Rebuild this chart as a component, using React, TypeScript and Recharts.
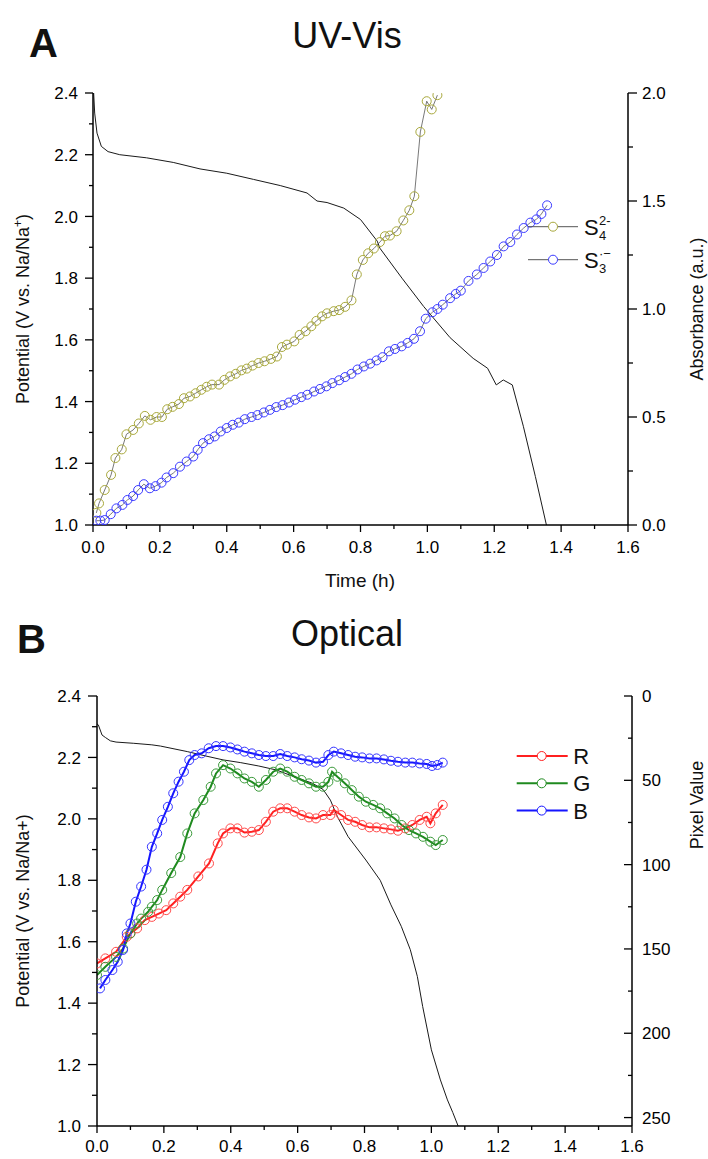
import React from 'react';
import { ComposedChart, Line, XAxis, YAxis, Legend } from 'recharts';

// ---------- Panel A data (UV-Vis) ----------
const potentialA: [number, number][] = [
  [0, 2.5], [0.002, 2.4], [0.005, 2.335], [0.012, 2.27], [0.025, 2.227], [0.045, 2.21], [0.08, 2.2],
  [0.16, 2.19], [0.24, 2.175], [0.32, 2.154], [0.4, 2.14], [0.48, 2.12], [0.56, 2.1], [0.64, 2.076],
  [0.67, 2.05], [0.7, 2.045], [0.75, 2.027], [0.8, 1.99], [0.85, 1.92], [0.858, 1.897], [0.924, 1.8],
  [0.989, 1.708], [1.068, 1.607], [1.137, 1.54], [1.18, 1.508], [1.206, 1.454], [1.227, 1.47],
  [1.254, 1.454], [1.287, 1.32], [1.323, 1.157], [1.356, 1.0],
];
const s4Abs: [number, number][] = [
  [0.01, 0.056], [0.018, 0.1], [0.035, 0.162], [0.054, 0.232], [0.067, 0.31], [0.086, 0.35], [0.1, 0.42],
  [0.12, 0.44], [0.137, 0.47], [0.155, 0.505], [0.172, 0.487], [0.19, 0.5], [0.206, 0.5], [0.222, 0.536],
  [0.238, 0.547], [0.257, 0.56], [0.272, 0.587], [0.29, 0.595], [0.307, 0.61], [0.324, 0.626], [0.34, 0.64],
  [0.356, 0.65], [0.377, 0.65], [0.393, 0.672], [0.41, 0.688], [0.427, 0.7], [0.444, 0.716], [0.46, 0.724],
  [0.477, 0.738], [0.495, 0.75], [0.513, 0.758], [0.532, 0.769], [0.55, 0.78], [0.565, 0.824], [0.58, 0.835],
  [0.602, 0.85], [0.618, 0.88], [0.636, 0.897], [0.653, 0.92], [0.668, 0.945], [0.685, 0.966], [0.7, 0.98],
  [0.72, 0.99], [0.736, 0.995], [0.754, 1.01], [0.773, 1.04], [0.789, 1.16], [0.807, 1.227], [0.823, 1.258],
  [0.84, 1.28], [0.858, 1.31], [0.873, 1.337], [0.888, 1.34], [0.908, 1.36], [0.928, 1.41], [0.946, 1.457],
  [0.961, 1.522], [0.979, 1.82], [0.998, 1.962], [1.013, 1.924], [1.03, 1.99],
];
const s3Abs: [number, number][] = [
  [0.01, 0.02], [0.022, 0.02], [0.035, 0.023], [0.053, 0.05], [0.07, 0.077], [0.088, 0.093], [0.103, 0.116],
  [0.12, 0.134], [0.135, 0.162], [0.152, 0.189], [0.17, 0.17], [0.187, 0.18], [0.205, 0.196], [0.22, 0.22],
  [0.24, 0.24], [0.26, 0.27], [0.28, 0.294], [0.3, 0.317], [0.313, 0.348], [0.329, 0.379], [0.347, 0.397],
  [0.364, 0.41], [0.382, 0.433], [0.4, 0.449], [0.418, 0.464], [0.436, 0.474], [0.454, 0.49], [0.474, 0.5],
  [0.492, 0.509], [0.511, 0.521], [0.529, 0.533], [0.548, 0.546], [0.567, 0.555], [0.586, 0.567],
  [0.604, 0.58], [0.623, 0.592], [0.641, 0.603], [0.661, 0.618], [0.679, 0.63], [0.698, 0.642], [0.716, 0.657],
  [0.736, 0.67], [0.754, 0.685], [0.773, 0.7], [0.791, 0.72], [0.81, 0.734], [0.829, 0.747], [0.848, 0.762],
  [0.866, 0.777], [0.885, 0.804], [0.903, 0.815], [0.923, 0.827], [0.941, 0.843], [0.96, 0.862], [0.978, 0.897],
  [0.995, 0.955], [1.015, 0.985], [1.03, 1.0], [1.046, 1.02], [1.068, 1.05], [1.085, 1.07], [1.1, 1.085],
  [1.123, 1.13], [1.148, 1.16], [1.168, 1.19], [1.188, 1.22], [1.208, 1.25], [1.228, 1.29], [1.248, 1.31],
  [1.268, 1.345], [1.288, 1.375], [1.308, 1.4], [1.326, 1.415], [1.341, 1.44], [1.358, 1.48],
];

// ---------- Panel B data (Optical) ----------
const potentialB: [number, number][] = [
  [0, 2.309], [0.004, 2.306], [0.015, 2.273], [0.025, 2.265], [0.04, 2.254], [0.057, 2.25], [0.11, 2.246],
  [0.164, 2.241], [0.19, 2.237], [0.27, 2.219], [0.324, 2.205], [0.377, 2.192], [0.43, 2.183], [0.484, 2.172],
  [0.537, 2.159], [0.59, 2.137], [0.644, 2.116], [0.676, 2.096], [0.698, 2.061], [0.719, 2.007], [0.751, 1.942],
  [0.804, 1.866], [0.847, 1.8], [0.879, 1.72], [0.91, 1.65], [0.937, 1.574], [0.958, 1.487], [0.974, 1.389],
  [1.0, 1.248], [1.027, 1.15], [1.048, 1.085], [1.064, 1.044], [1.08, 1.0],
];
const redPixel: [number, number][] = [
  [0.0, 158.6], [0.025, 155.6], [0.057, 151.7], [0.089, 142.8], [0.1, 140.8], [0.12, 137.8], [0.143, 132.9],
  [0.164, 131], [0.185, 129], [0.207, 127], [0.228, 123], [0.249, 119], [0.27, 115], [0.303, 107], [0.335, 99.3],
  [0.361, 87.4], [0.377, 81.5], [0.399, 78.5], [0.42, 78.5], [0.441, 81], [0.463, 80.5], [0.484, 79.5],
  [0.505, 74.6], [0.527, 68.6], [0.548, 66.6], [0.569, 66.6], [0.591, 68.6], [0.612, 70.6], [0.634, 72],
  [0.655, 72.6], [0.676, 70.6], [0.698, 70.6], [0.708, 67.6], [0.73, 70.6], [0.751, 73.5], [0.772, 74.6],
  [0.793, 76.5], [0.815, 77.9], [0.836, 77.9], [0.858, 78.5], [0.879, 79.1], [0.9, 79.9], [0.922, 78.5],
  [0.943, 76.5], [0.965, 73.5], [0.986, 71.6], [0.997, 75.5], [1.013, 69.6], [1.034, 64.6],
];
const greenPixel: [number, number][] = [
  [0.0, 165.5], [0.025, 160.6], [0.057, 154.7], [0.078, 149.8], [0.1, 140.8], [0.12, 134.9], [0.132, 132],
  [0.153, 128], [0.164, 125], [0.18, 121], [0.195, 115], [0.222, 105], [0.249, 95.5], [0.27, 81.5],
  [0.292, 69.6], [0.318, 61.7], [0.34, 53.8], [0.356, 45.9], [0.377, 41], [0.399, 43], [0.42, 45.9],
  [0.441, 48.9], [0.463, 50.9], [0.484, 53.8], [0.505, 49.8], [0.527, 44.9], [0.548, 43], [0.569, 44.9],
  [0.591, 47.9], [0.612, 49.8], [0.634, 51.8], [0.655, 53.8], [0.676, 53.8], [0.692, 50.9], [0.703, 44.9],
  [0.719, 47.9], [0.741, 51.8], [0.762, 55.8], [0.783, 59.7], [0.804, 62.7], [0.826, 64.6], [0.847, 66.6],
  [0.868, 69.6], [0.89, 72.6], [0.911, 76.5], [0.933, 79.5], [0.954, 81.5], [0.975, 83.5], [0.997, 86.4],
  [1.013, 88.4], [1.034, 85.4],
];
const bluePixel: [number, number][] = [
  [0.009, 173.4], [0.025, 168.4], [0.046, 162.5], [0.062, 157.6], [0.078, 150.6], [0.089, 140.8], [0.1, 134.9],
  [0.116, 122], [0.132, 113], [0.148, 103], [0.164, 89.4], [0.18, 81.5], [0.195, 73.5], [0.212, 65.7],
  [0.228, 57.7], [0.244, 50.8], [0.26, 44.9], [0.276, 38], [0.292, 35], [0.313, 34], [0.334, 31], [0.356, 29.7],
  [0.377, 29.7], [0.399, 30.5], [0.42, 31.7], [0.441, 33], [0.463, 34], [0.484, 35], [0.505, 35.6],
  [0.527, 35.6], [0.548, 34.4], [0.569, 35.6], [0.591, 36.4], [0.612, 37.5], [0.634, 38.3], [0.655, 39.5],
  [0.676, 39], [0.692, 35], [0.708, 33], [0.73, 34], [0.751, 35], [0.772, 36], [0.793, 36.4], [0.815, 37],
  [0.836, 37], [0.858, 37.6], [0.879, 38.4], [0.9, 39], [0.922, 39.5], [0.943, 39.5], [0.965, 40],
  [0.986, 40.3], [1.002, 41.5], [1.018, 40.9], [1.034, 39.5],
];

// ---------- Tick values ----------
const timeTicks = [0, 0.1, 0.2, 0.3, 0.4, 0.5, 0.6, 0.7, 0.8, 0.9, 1.0, 1.1, 1.2, 1.3, 1.4, 1.5, 1.6];
const timeTopTicksA = [0, 0.16, 0.32, 0.48, 0.64, 0.8, 0.96, 1.12, 1.28, 1.44, 1.6];
const potentialTicks = [1.0, 1.1, 1.2, 1.3, 1.4, 1.5, 1.6, 1.7, 1.8, 1.9, 2.0, 2.1, 2.2, 2.3, 2.4];
const absTicks = [0, 0.25, 0.5, 0.75, 1.0, 1.25, 1.5, 1.75, 2.0];
const pixelTicks = [0, 25, 50, 75, 100, 125, 150, 175, 200, 225, 250];

const FONT = "'Liberation Sans', Arial, Helvetica, sans-serif";
const OLIVE = '#a8a83c';
const BLUE_A = '#3a3aff';

const toXY = (arr: [number, number][], key: string) => arr.map(([t, v]) => ({ t, [key]: v }));

const isMult = (v: number, step: number) => Math.abs(v / step - Math.round(v / step)) < 1e-6;

type Side = 'left' | 'right' | 'bottom' | 'top';
function makeTick(side: Side, majorLen: number, minorLen: number, majorStep: number, fmt: ((v: number) => string) | null, gap: number) {
  return (props: any) => {
    const { x, y, payload } = props;
    const v = payload.value;
    const maj = isMult(v, majorStep);
    const len = maj ? majorLen : minorLen;
    let line: any;
    let label: any = null;
    const out = Math.max(len, 0);
    const txt = fmt && maj ? fmt(v) : null;
    if (side === 'left') {
      line = <line x1={x} y1={y} x2={x - len} y2={y} stroke="#000" strokeWidth={1.3} />;
      if (txt) label = <text x={x - out - gap} y={y} dy="0.36em" textAnchor="end" fontSize={17} fontFamily={FONT} fill="#000">{txt}</text>;
    } else if (side === 'right') {
      line = <line x1={x} y1={y} x2={x + len} y2={y} stroke="#000" strokeWidth={1.3} />;
      if (txt) label = <text x={x + out + gap} y={y} dy="0.36em" textAnchor="start" fontSize={17} fontFamily={FONT} fill="#000">{txt}</text>;
    } else if (side === 'bottom') {
      line = <line x1={x} y1={y} x2={x} y2={y + len} stroke="#000" strokeWidth={1.3} />;
      if (txt) label = <text x={x} y={y + out + gap} dy="0.72em" textAnchor="middle" fontSize={17} fontFamily={FONT} fill="#000">{txt}</text>;
    } else {
      line = <line x1={x} y1={y} x2={x} y2={y - len} stroke="#000" strokeWidth={1.3} />;
    }
    return <g>{line}{label}</g>;
  };
}

const f1 = (v: number) => v.toFixed(1);
const f0 = (v: number) => String(Math.round(v));

const ringDot = (color: string, r: number, w: number) => (p: any) => {
  if (p.cx == null || p.cy == null) return <g key={p.index} />;
  return <circle key={p.index} cx={p.cx} cy={p.cy} r={r} fill="none" stroke={color} strokeWidth={w} />;
};

const legendAOrder = ['S4', 'S3'];
const legendA: Record<string, { color: string; main: string; sub: string; sup: string }> = {
  S4: { color: OLIVE, main: 'S', sub: '4', sup: '2-' },
  S3: { color: BLUE_A, main: 'S', sub: '3', sup: '·−' },
};

const TopLegend = (props: any) => {
  const items = (props.payload || [])
    .filter((it: any) => legendA[it.value])
    .sort((a: any, b: any) => legendAOrder.indexOf(a.value) - legendAOrder.indexOf(b.value));
  return (
    <svg width={110} height={70} style={{ overflow: 'visible' }}>
      {items.map((it: any, i: number) => {
        const cfg = legendA[it.value];
        const cy = 21.7 + 33 * i;
        return (
          <g key={it.value}>
            <line x1={8} y1={cy} x2={58} y2={cy} stroke="#555" strokeWidth={1} />
            <circle cx={33} cy={cy} r={4.5} fill="#fff" stroke={cfg.color} strokeWidth={1} />
            <text x={64} y={cy + 8} fontSize={22} fontFamily={FONT} fill="#111">{cfg.main}</text>
            <text x={79} y={cy + 13} fontSize={13} fontFamily={FONT} fill="#111">{cfg.sub}</text>
            <text x={79} y={cy - 2} fontSize={13} fontFamily={FONT} fill="#111">{cfg.sup}</text>
          </g>
        );
      })}
    </svg>
  );
};

const legendBOrder = ['R', 'G', 'B'];
const legendB: Record<string, string> = { R: '#ff2020', G: '#1f8a1f', B: '#1515ff' };
const BottomLegend = (props: any) => {
  const items = (props.payload || [])
    .filter((it: any) => legendB[it.value])
    .sort((a: any, b: any) => legendBOrder.indexOf(a.value) - legendBOrder.indexOf(b.value));
  return (
    <svg width={100} height={90} style={{ overflow: 'visible' }}>
      {items.map((it: any, i: number) => {
        const cy = 16 + 27.3 * i;
        const c = legendB[it.value];
        return (
          <g key={it.value}>
            <line x1={6.7} y1={cy} x2={57.7} y2={cy} stroke={c} strokeWidth={2} />
            <circle cx={31.7} cy={cy} r={4.5} fill="#fff" stroke={c} strokeWidth={1} />
            <text x={63.3} y={cy + 8} fontSize={22} fontFamily={FONT} fill="#111">{it.value}</text>
          </g>
        );
      })}
    </svg>
  );
};

function ChartA() {
  return (
    <ComposedChart width={708} height={600} margin={{ top: 93, right: 0, bottom: 15, left: 0 }}>
      <XAxis xAxisId="b" dataKey="t" type="number" domain={[0, 1.6]} ticks={timeTicks} interval={0}
        allowDataOverflow height={60} tickSize={0} tickMargin={0} tickLine={false}
        axisLine={{ stroke: '#000', strokeWidth: 1.5 }} tick={makeTick('bottom', 7, 4, 0.2, f1, 9)} />
      <XAxis xAxisId="top" orientation="top" dataKey="t" type="number" domain={[0, 1.6]} ticks={timeTopTicksA}
        interval={0} height={0} tickSize={0} tickMargin={0} tickLine={false}
        axisLine={{ stroke: '#000', strokeWidth: 1.5 }} tick={makeTick('top', -4, -4, 0.16, null, 0)} />
      <YAxis yAxisId="l" type="number" domain={[1.0, 2.4]} ticks={potentialTicks} interval={0} allowDataOverflow
        width={93} tickSize={0} tickMargin={0} tickLine={false}
        axisLine={{ stroke: '#000', strokeWidth: 1.5 }} tick={makeTick('left', 8, 4, 0.2, f1, 7)} />
      <YAxis yAxisId="r" orientation="right" type="number" domain={[0, 2.0]} ticks={absTicks} interval={0}
        allowDataOverflow width={80} tickSize={0} tickMargin={0} tickLine={false}
        axisLine={{ stroke: '#000', strokeWidth: 1.5 }} tick={makeTick('right', 9, 5, 0.5, f1, 5)} />
      <Line data={toXY(potentialA, 'v')} dataKey="v" xAxisId="b" yAxisId="l" type="linear" stroke="#1a1a1a"
        strokeWidth={1} dot={false} isAnimationActive={false} legendType="none" />
      <Line data={toXY(s4Abs, 'a')} dataKey="a" name="S4" xAxisId="b" yAxisId="r" type="linear" stroke="#555"
        strokeWidth={0.8} dot={ringDot(OLIVE, 4.5, 1)} isAnimationActive={false} />
      <Line data={toXY(s3Abs, 'a')} dataKey="a" name="S3" xAxisId="b" yAxisId="r" type="linear" stroke="#555"
        strokeWidth={0.8} dot={ringDot(BLUE_A, 4.5, 1)} isAnimationActive={false} />
      <Legend layout="vertical" align="center" verticalAlign="middle" content={TopLegend}
        wrapperStyle={{ position: 'absolute', left: 520, top: 205, width: 110, height: 70 }} />
    </ComposedChart>
  );
}

function ChartB() {
  return (
    <ComposedChart width={708} height={559} margin={{ top: 96, right: 0, bottom: 3, left: 0 }}>
      <XAxis xAxisId="b" dataKey="t" type="number" domain={[0, 1.6]} ticks={timeTicks} interval={0}
        allowDataOverflow height={30} tickSize={0} tickMargin={0} tickLine={false}
        axisLine={{ stroke: '#000', strokeWidth: 1.5 }} tick={makeTick('bottom', 7, 4, 0.2, f1, 7)} />
      <XAxis xAxisId="top" orientation="top" dataKey="t" type="number" domain={[0, 1.6]} ticks={timeTicks}
        interval={0} height={0} tickSize={0} tickMargin={0} tickLine={false}
        axisLine={{ stroke: '#000', strokeWidth: 1.5 }} tick={makeTick('top', -7, -4, 0.2, null, 0)} />
      <YAxis yAxisId="l" type="number" domain={[1.0, 2.4]} ticks={potentialTicks} interval={0} allowDataOverflow
        width={97} tickSize={0} tickMargin={0} tickLine={false}
        axisLine={{ stroke: '#000', strokeWidth: 1.5 }} tick={makeTick('left', 9, 5, 0.2, f1, 7)} />
      <YAxis yAxisId="r" orientation="right" type="number" domain={[0, 255]} reversed ticks={pixelTicks}
        interval={0} allowDataOverflow width={76} tickSize={0} tickMargin={0} tickLine={false}
        axisLine={{ stroke: '#000', strokeWidth: 1.5 }} tick={makeTick('right', -8, -4, 50, f0, 10)} />
      <Line data={toXY(potentialB, 'v')} dataKey="v" xAxisId="b" yAxisId="l" type="linear" stroke="#1a1a1a"
        strokeWidth={1} dot={false} isAnimationActive={false} legendType="none" />
      <Line data={toXY(redPixel, 'p')} dataKey="p" name="R" xAxisId="b" yAxisId="r" type="linear"
        stroke={legendB.R} strokeWidth={2} dot={ringDot('#ff4a4a', 4.5, 1)} isAnimationActive={false} />
      <Line data={toXY(greenPixel, 'p')} dataKey="p" name="G" xAxisId="b" yAxisId="r" type="linear"
        stroke={legendB.G} strokeWidth={2} dot={ringDot('#3a9a3a', 4.5, 1)} isAnimationActive={false} />
      <Line data={toXY(bluePixel, 'p')} dataKey="p" name="B" xAxisId="b" yAxisId="r" type="linear"
        stroke={legendB.B} strokeWidth={2} dot={ringDot('#3535ff', 4.5, 1)} isAnimationActive={false} />
      <Legend layout="vertical" align="center" verticalAlign="middle" content={BottomLegend}
        wrapperStyle={{ position: 'absolute', left: 510, top: 140, width: 100, height: 90 }} />
    </ComposedChart>
  );
}

function Overlay() {
  const t = { fontFamily: FONT, fill: '#111' } as any;
  return (
    <svg width={708} height={1159} style={{ position: 'absolute', left: 0, top: 0, pointerEvents: 'none' }}>
      <text x={29} y={57} fontSize={40} fontWeight="bold" {...t}>A</text>
      <text x={347} y={48} fontSize={36} textAnchor="middle" {...t}>UV-Vis</text>
      <text transform="translate(29,309) rotate(-90)" textAnchor="middle" fontSize={18} {...t}>
        Potential (V vs. Na/Na<tspan dy={-7} fontSize={12}>+</tspan><tspan dy={7}>)</tspan>
      </text>
      <text transform="translate(703,309) rotate(-90)" textAnchor="middle" fontSize={18} {...t}>Absorbance (a.u.)</text>
      <text x={360} y={587} fontSize={19} textAnchor="middle" {...t}>Time (h)</text>
      <text x={17} y={653} fontSize={40} fontWeight="bold" {...t}>B</text>
      <text x={347} y={646} fontSize={36} textAnchor="middle" {...t}>Optical</text>
      <text transform="translate(29,911) rotate(-90)" textAnchor="middle" fontSize={18} {...t}>Potential (V vs. Na/Na+)</text>
      <text transform="translate(703,805) rotate(-90)" textAnchor="middle" fontSize={18} {...t}>Pixel Value</text>
    </svg>
  );
}

export default function App() {
  return (
    <div style={{ position: 'absolute', left: 0, top: 0, width: 708, height: 1159, background: '#fff' }}>
      <div style={{ position: 'absolute', left: 0, top: 0 }}><ChartA /></div>
      <div style={{ position: 'absolute', left: 0, top: 600 }}><ChartB /></div>
      <Overlay />
    </div>
  );
}
